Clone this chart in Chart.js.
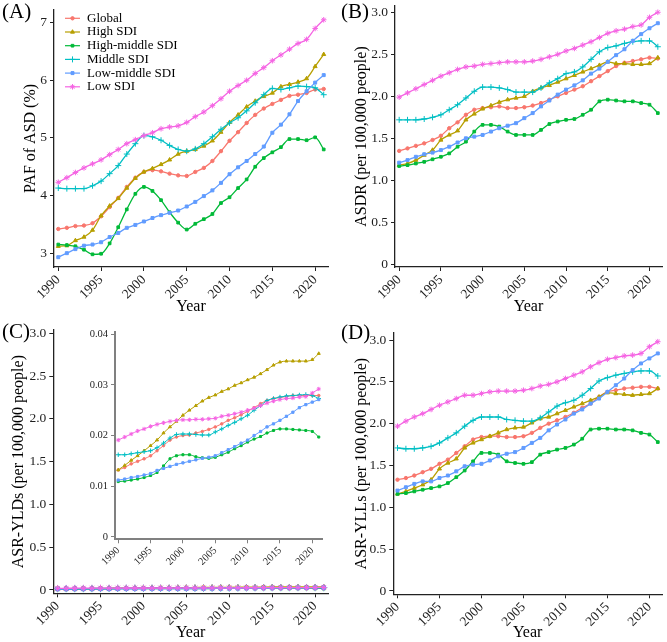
<!DOCTYPE html>
<html><head><meta charset="utf-8">
<script src="https://cdn.jsdelivr.net/npm/chart.js@4.4.0/dist/chart.umd.min.js"></script>
<style>
body{margin:0;background:#fff;width:667px;height:642px;position:relative;overflow:hidden;font-family:'Liberation Serif','Times New Roman',serif}
canvas{position:absolute}
.lab{position:absolute;font-size:21px;line-height:24px;color:#000;white-space:nowrap}
</style></head><body>
<canvas id="cA" width="333" height="321" style="left:0;top:0"></canvas>
<canvas id="cB" width="334" height="321" style="left:333px;top:0"></canvas>
<canvas id="cC" width="333" height="321" style="left:0;top:321px"></canvas>
<canvas id="cD" width="334" height="321" style="left:333px;top:321px"></canvas>
<canvas id="cI" width="247" height="240" style="left:80px;top:325px"></canvas>
<div class="lab" style="left:2px;top:-1px">(A)</div>
<div class="lab" style="left:341px;top:-1px">(B)</div>
<div class="lab" style="left:2px;top:319px">(C)</div>
<div class="lab" style="left:341px;top:320px">(D)</div>
<script>
const years = [1990,1991,1992,1993,1994,1995,1996,1997,1998,1999,2000,2001,2002,2003,2004,2005,2006,2007,2008,2009,2010,2011,2012,2013,2014,2015,2016,2017,2018,2019,2020,2021];
const seriesNames = ['Global','High SDI','High-middle SDI','Middle SDI','Low-middle SDI','Low SDI'];
const seriesColors = ['#F8766D','#B79F00','#00BA38','#00BFC4','#619CFF','#F564E3'];
const pointShapes = ['circle','triangle','rect','cross','rect','star'];
const pointSizes = [1.7,2.3,1.9,3.0,2.1,2.8];

const xTicks = [1990,1995,2000,2005,2010,2015,2020];
const xTickLabels = ['1990','1995','2000','2005','2010','2015','2020'];
const yTicksA = [3,4,5,6,7];
const yTickLabelsA = ['3','4','5','6','7'];
const yTicksRate = [0,0.5,1.0,1.5,2.0,2.5,3.0];
const yTickLabelsRate = ['0','0.5','1.0','1.5','2.0','2.5','3.0'];
const yTicksInset = [0,0.01,0.02,0.03,0.04];
const yTickLabelsInset = ['0','0.01','0.02','0.03','0.04'];

// (A) PAF of ASD (%)
const pafGlobal = [3.42,3.44,3.47,3.48,3.52,3.64,3.80,3.96,4.15,4.31,4.41,4.44,4.42,4.38,4.35,4.34,4.41,4.48,4.60,4.77,4.95,5.10,5.26,5.40,5.51,5.59,5.66,5.73,5.75,5.78,5.84,5.85];
const pafHigh = [3.12,3.13,3.22,3.28,3.40,3.65,3.82,3.95,4.13,4.30,4.41,4.47,4.54,4.62,4.72,4.77,4.80,4.86,4.95,5.10,5.27,5.40,5.54,5.64,5.72,5.78,5.89,5.93,5.97,6.03,6.24,6.45];
const pafHighMiddle = [3.15,3.14,3.12,3.06,2.98,2.99,3.17,3.45,3.76,4.03,4.15,4.08,3.92,3.71,3.53,3.41,3.51,3.59,3.68,3.87,3.97,4.13,4.28,4.50,4.65,4.75,4.84,4.98,4.98,4.96,5.01,4.80];
const pafMiddle = [4.13,4.12,4.12,4.12,4.17,4.25,4.38,4.52,4.72,4.90,5.04,5.02,4.96,4.87,4.80,4.77,4.81,4.90,5.02,5.15,5.26,5.35,5.47,5.61,5.75,5.86,5.84,5.87,5.90,5.89,5.87,5.75];
const pafLowMiddle = [2.93,3.00,3.07,3.13,3.15,3.19,3.28,3.35,3.44,3.49,3.55,3.61,3.66,3.70,3.74,3.81,3.89,3.99,4.09,4.22,4.37,4.49,4.60,4.72,4.85,5.09,5.23,5.41,5.64,5.81,5.96,6.09];
const pafLow = [4.23,4.31,4.40,4.48,4.55,4.62,4.71,4.80,4.90,4.97,5.04,5.09,5.16,5.19,5.21,5.27,5.37,5.45,5.56,5.68,5.81,5.91,6.00,6.12,6.22,6.34,6.44,6.54,6.64,6.71,6.90,7.05];

// (B) ASDR
const asdrGlobal = [1.35,1.38,1.41,1.44,1.48,1.53,1.62,1.69,1.78,1.84,1.86,1.87,1.88,1.86,1.86,1.87,1.89,1.92,1.96,2.00,2.04,2.08,2.12,2.18,2.24,2.30,2.36,2.40,2.42,2.44,2.46,2.45];
const asdrHigh = [1.18,1.20,1.24,1.30,1.36,1.48,1.54,1.59,1.72,1.79,1.85,1.89,1.93,1.96,1.98,2.00,2.06,2.10,2.13,2.17,2.21,2.25,2.29,2.33,2.37,2.41,2.39,2.39,2.38,2.38,2.39,2.46];
const asdrHighMiddle = [1.17,1.18,1.20,1.22,1.25,1.28,1.32,1.40,1.46,1.58,1.66,1.66,1.64,1.58,1.54,1.54,1.54,1.60,1.67,1.70,1.72,1.73,1.78,1.84,1.94,1.96,1.95,1.94,1.94,1.92,1.90,1.80];
const asdrMiddle = [1.72,1.72,1.72,1.73,1.75,1.78,1.84,1.90,1.98,2.06,2.11,2.11,2.10,2.08,2.05,2.05,2.05,2.10,2.16,2.21,2.27,2.29,2.35,2.44,2.53,2.58,2.60,2.63,2.65,2.66,2.66,2.59];
const asdrLowMiddle = [1.21,1.24,1.28,1.31,1.33,1.36,1.40,1.45,1.50,1.52,1.54,1.58,1.62,1.65,1.68,1.74,1.80,1.88,1.95,2.02,2.08,2.13,2.19,2.27,2.33,2.41,2.49,2.56,2.66,2.74,2.81,2.87];
const asdrLow = [1.99,2.04,2.09,2.14,2.19,2.24,2.28,2.32,2.35,2.36,2.38,2.39,2.40,2.41,2.41,2.41,2.42,2.44,2.47,2.50,2.54,2.57,2.61,2.65,2.70,2.75,2.78,2.80,2.83,2.85,2.94,3.00];

// (C) ASR-YLDs
const yldGlobal = [0.0132,0.0137,0.0144,0.0149,0.0154,0.0160,0.0170,0.0180,0.0191,0.0197,0.0200,0.0201,0.0205,0.0208,0.0212,0.0217,0.0223,0.0230,0.0235,0.0241,0.0248,0.0255,0.0263,0.0269,0.0273,0.0275,0.0277,0.0279,0.0279,0.0279,0.0279,0.0279];
const yldHigh = [0.0132,0.0141,0.0151,0.0160,0.0170,0.0180,0.0191,0.0205,0.0217,0.0228,0.0240,0.0250,0.0259,0.0268,0.0275,0.0280,0.0287,0.0292,0.0299,0.0304,0.0310,0.0315,0.0322,0.0330,0.0339,0.0345,0.0347,0.0347,0.0347,0.0347,0.0350,0.0362];
const yldHighMiddle = [0.0109,0.0110,0.0112,0.0114,0.0117,0.0121,0.0127,0.0140,0.0154,0.0160,0.0162,0.0162,0.0158,0.0156,0.0155,0.0157,0.0162,0.0167,0.0174,0.0180,0.0187,0.0193,0.0198,0.0205,0.0210,0.0213,0.0213,0.0212,0.0211,0.0210,0.0208,0.0197];
const yldMiddle = [0.0162,0.0162,0.0164,0.0166,0.0168,0.0170,0.0176,0.0185,0.0195,0.0202,0.0203,0.0203,0.0202,0.0201,0.0201,0.0207,0.0213,0.0220,0.0226,0.0233,0.0240,0.0250,0.0259,0.0269,0.0273,0.0276,0.0278,0.0279,0.0280,0.0281,0.0279,0.0273];
const yldLowMiddle = [0.0112,0.0114,0.0117,0.0119,0.0122,0.0125,0.0131,0.0135,0.0139,0.0143,0.0146,0.0149,0.0152,0.0155,0.0157,0.0160,0.0166,0.0172,0.0178,0.0185,0.0191,0.0200,0.0208,0.0217,0.0223,0.0230,0.0238,0.0246,0.0255,0.0261,0.0266,0.0271];
const yldLow = [0.0191,0.0197,0.0203,0.0209,0.0213,0.0218,0.0222,0.0225,0.0228,0.0230,0.0231,0.0231,0.0232,0.0232,0.0233,0.0234,0.0238,0.0240,0.0243,0.0246,0.0250,0.0254,0.0259,0.0264,0.0268,0.0271,0.0273,0.0274,0.0276,0.0277,0.0284,0.0292];

// (D) ASR-YLLs
const yllGlobal = [1.33,1.35,1.38,1.42,1.46,1.52,1.57,1.65,1.73,1.81,1.84,1.85,1.85,1.84,1.84,1.85,1.89,1.95,2.00,2.04,2.08,2.13,2.19,2.24,2.32,2.38,2.40,2.42,2.43,2.44,2.44,2.42];
const yllHigh = [1.16,1.19,1.23,1.27,1.33,1.46,1.53,1.58,1.71,1.77,1.81,1.85,1.89,1.93,1.95,1.96,2.01,2.06,2.08,2.12,2.16,2.20,2.24,2.28,2.32,2.37,2.36,2.35,2.34,2.35,2.36,2.42];
const yllHighMiddle = [1.16,1.17,1.19,1.21,1.23,1.25,1.29,1.36,1.44,1.55,1.65,1.65,1.63,1.55,1.53,1.52,1.54,1.63,1.66,1.69,1.71,1.75,1.82,1.93,1.94,1.94,1.93,1.93,1.92,1.89,1.87,1.78];
const yllMiddle = [1.71,1.70,1.70,1.71,1.73,1.77,1.83,1.89,1.97,2.04,2.08,2.08,2.08,2.05,2.04,2.03,2.03,2.07,2.14,2.21,2.25,2.28,2.34,2.42,2.51,2.55,2.58,2.60,2.62,2.63,2.63,2.57];
const yllLowMiddle = [1.20,1.24,1.28,1.31,1.31,1.35,1.38,1.43,1.49,1.51,1.52,1.56,1.61,1.64,1.66,1.71,1.77,1.83,1.92,1.99,2.05,2.12,2.17,2.24,2.30,2.38,2.46,2.54,2.64,2.72,2.78,2.84];
const yllLow = [1.97,2.03,2.08,2.12,2.17,2.22,2.26,2.30,2.34,2.34,2.36,2.38,2.39,2.39,2.39,2.40,2.42,2.45,2.47,2.50,2.54,2.58,2.62,2.68,2.73,2.77,2.79,2.81,2.82,2.84,2.92,2.98];

const FONT = "'Liberation Serif','Times New Roman',serif";

function buildDatasets(list, ptScale, lw) {
  return list.map((vals, i) => ({
    label: seriesNames[i],
    data: years.map((yr, j) => ({x: yr, y: vals[j]})),
    borderColor: seriesColors[i],
    backgroundColor: seriesColors[i],
    pointBackgroundColor: seriesColors[i],
    pointBorderColor: seriesColors[i],
    pointStyle: pointShapes[i],
    pointRadius: pointSizes[i] * ptScale,
    pointBorderWidth: 1,
    borderWidth: lw,
    cubicInterpolationMode: 'monotone',
    order: list.length - i
  }));
}

const legendPlugin = {
  id: 'innerLegend',
  afterDraw(chart) {
    const ctx = chart.ctx;
    ctx.save();
    chart.data.datasets.forEach((ds, i) => {
      const y = 18.3 + i * 13.7;
      ctx.strokeStyle = ds.borderColor;
      ctx.fillStyle = ds.borderColor;
      ctx.lineWidth = 1.2;
      ctx.beginPath(); ctx.moveTo(65, y); ctx.lineTo(80, y); ctx.stroke();
      ctx.lineWidth = 1;
      Chart.helpers.drawPoint(ctx, {pointStyle: ds.pointStyle, radius: ds.pointRadius, rotation: 0, borderWidth: 1}, 72.5, y);
      ctx.fillStyle = '#000';
      ctx.font = '13px ' + FONT;
      ctx.textBaseline = 'middle';
      ctx.textAlign = 'left';
      ctx.fillText(ds.label, 87, y);
    });
    ctx.restore();
  }
};

function makePanel(id, c) {
  return new Chart(document.getElementById(id), {
    type: 'line',
    data: {datasets: buildDatasets(c.series, c.ptScale || 1, c.lw || 1.3)},
    options: {
      responsive: false,
      animation: false,
      layout: {padding: {left: 0, top: c.padTop, right: c.padRight, bottom: 0}},
      plugins: {legend: {display: false}, tooltip: {enabled: false}},
      scales: {
        x: {
          type: 'linear', min: 1989.5, max: 2021.5,
          afterBuildTicks: s => { s.ticks = xTicks.map(v => ({value: v})); },
          afterFit: s => { s.height = c.xH; s.paddingLeft = 0; s.paddingRight = 0; },
          ticks: {autoSkip: false, minRotation: 45, maxRotation: 45, padding: 1,
            font: {family: FONT, size: c.tickSize}, color: '#1e1e1e',
            callback: v => xTickLabels[xTicks.indexOf(v)]},
          grid: {display: true, drawOnChartArea: false, drawTicks: true, tickLength: 4, color: c.axisColor, lineWidth: 1},
          border: {display: true, color: c.axisColor, width: c.axisW},
          title: {display: !!c.xTitle, text: c.xTitle || '', color: '#000',
            font: {family: FONT, size: 16}, padding: {top: 0, bottom: c.xTitlePad || 0}}
        },
        y: {
          type: 'linear', min: c.yMin, max: c.yMax,
          afterBuildTicks: s => { s.ticks = c.yTicks.map(v => ({value: v})); },
          afterFit: s => { s.width = c.yW; s.paddingTop = 0; s.paddingBottom = 0; },
          ticks: {autoSkip: false, padding: 3, font: {family: FONT, size: c.tickSize}, color: '#1e1e1e',
            callback: v => c.yLabels[c.yTicks.indexOf(v)]},
          grid: {display: true, drawOnChartArea: false, drawTicks: true, tickLength: 4, color: c.axisColor, lineWidth: 1},
          border: {display: true, color: c.axisColor, width: c.axisW},
          title: {display: !!c.yTitle, text: c.yTitle || '', color: '#000',
            font: {family: FONT, size: 16}, padding: {top: c.yTitlePad || 0, bottom: 0}}
        }
      }
    },
    plugins: c.plugins || []
  });
}

makePanel('cA', {
  series: [pafGlobal, pafHigh, pafHighMiddle, pafMiddle, pafLowMiddle, pafLow],
  padTop: 10, padRight: 2, xH: 54, yW: 54, yMin: 2.76, yMax: 7.22,
  yTicks: yTicksA, yLabels: yTickLabelsA, tickSize: 13.5, axisColor: '#222', axisW: 1.3,
  xTitle: 'Year', xTitlePad: 4.4, yTitle: 'PAF of ASD (%)', yTitlePad: 21.4,
  plugins: [legendPlugin]
});
makePanel('cB', {
  series: [asdrGlobal, asdrHigh, asdrHighMiddle, asdrMiddle, asdrLowMiddle, asdrLow],
  padTop: 6, padRight: 2, xH: 54, yW: 62, yMin: -0.032, yMax: 3.075,
  yTicks: yTicksRate, yLabels: yTickLabelsRate, tickSize: 13.5, axisColor: '#222', axisW: 1.3,
  xTitle: 'Year', xTitlePad: 4.4, yTitle: 'ASDR (per 100,000 people)', yTitlePad: 19.4
});
makePanel('cC', {
  series: [yldGlobal, yldHigh, yldHighMiddle, yldMiddle, yldLowMiddle, yldLow],
  padTop: 9, padRight: 3, xH: 48.7, yW: 53.3, yMin: -0.039, yMax: 3.04,
  yTicks: yTicksRate, yLabels: yTickLabelsRate, tickSize: 13.5, axisColor: '#222', axisW: 1.3,
  xTitle: 'Year', xTitlePad: 0, yTitle: 'ASR-YLDs (per 100,000 people)', yTitlePad: 9.4,
  ptScale: 1.2
});
makePanel('cD', {
  series: [yllGlobal, yllHigh, yllHighMiddle, yllMiddle, yllLowMiddle, yllLow],
  padTop: 12, padRight: 3, xH: 47.7, yW: 60.3, yMin: -0.04, yMax: 3.084,
  yTicks: yTicksRate, yLabels: yTickLabelsRate, tickSize: 13.5, axisColor: '#222', axisW: 1.3,
  xTitle: 'Year', xTitlePad: 0, yTitle: 'ASR-YLLs (per 100,000 people)', yTitlePad: 18.7
});
makePanel('cI', {
  series: [yldGlobal, yldHigh, yldHighMiddle, yldMiddle, yldLowMiddle, yldLow],
  padTop: 7, padRight: 2, xH: 25.7, yW: 35, yMin: -0.0005, yMax: 0.04045,
  yTicks: yTicksInset, yLabels: yTickLabelsInset, tickSize: 10.5, axisColor: '#808080', axisW: 2,
  ptScale: 0.75, lw: 1
});
</script>
</body></html>
